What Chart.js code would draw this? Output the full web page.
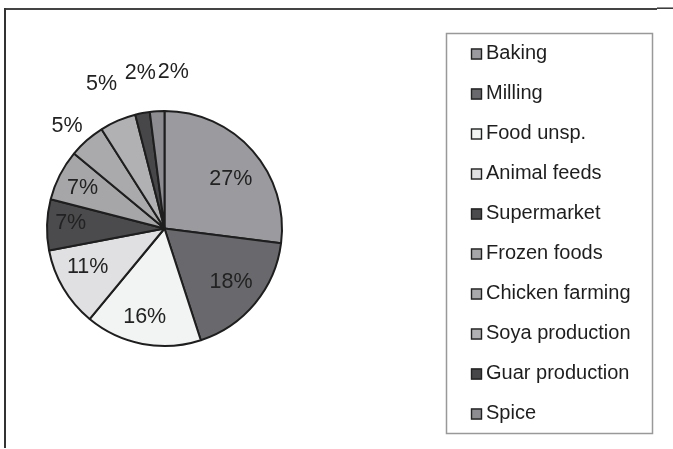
<!DOCTYPE html>
<html>
<head>
<meta charset="utf-8">
<script src="https://cdn.jsdelivr.net/npm/chart.js@4/dist/chart.umd.min.js"></script>
<style>
  html, body { margin: 0; padding: 0; background: #ffffff; }
  #wrap { width: 673px; height: 449px; }
</style>
</head>
<body>
<div id="wrap"><canvas id="c" width="673" height="449"></canvas></div>
<script>
// Share of use by sector (percent)
const categories = ['Baking', 'Milling', 'Food unsp.', 'Animal feeds', 'Supermarket',
  'Frozen foods', 'Chicken farming', 'Soya production', 'Guar production', 'Spice'];
const shares = [27, 18, 16, 11, 7, 7, 5, 5, 2, 2];

// Slice fills (greyscale)
const sliceColors = ['#9b9b9f', '#69696d', '#f2f3f3', '#e0e0e2', '#4b4b4e',
  '#a6a6a9', '#aaaaad', '#b1b1b4', '#47474a', '#8d8d91'];

// Value label placement: radius as a fraction of the pie radius, and a small angular shift (degrees)
const labelRadius = [0.71, 0.72, 0.76, 0.73, 0.80, 0.78, 1.21, 1.35, 1.35, 1.34];
const labelShift  = [4, -1.5, 2, 4.3, 1.9, -0.4, -1.9, 0, 2, 6.8];

const FONT = '"Liberation Sans", Arial, Helvetica, sans-serif';

// Frame lines and the boxed legend at the right
const framePlugin = {
  id: 'frame',
  afterDraw(chart) {
    const ctx = chart.ctx;
    ctx.save();
    ctx.lineCap = 'butt';
    // outer frame: top and left edges
    ctx.strokeStyle = '#444';
    ctx.lineWidth = 2;
    ctx.beginPath();
    ctx.moveTo(4, 9); ctx.lineTo(657, 9);
    ctx.stroke();
    ctx.strokeStyle = '#333';
    ctx.lineWidth = 1.5;
    ctx.beginPath();
    ctx.moveTo(657, 8.2); ctx.lineTo(673, 8.2);
    ctx.stroke();
    ctx.lineWidth = 2;
    ctx.beginPath();
    ctx.moveTo(5, 8); ctx.lineTo(5, 448);
    ctx.stroke();

    // legend box
    ctx.strokeStyle = '#999';
    ctx.lineWidth = 1.5;
    ctx.strokeRect(446.5, 33.5, 206, 400);

    // legend entries
    const ds = chart.data.datasets[0];
    ctx.font = '20px ' + FONT;
    ctx.textBaseline = 'middle';
    ctx.textAlign = 'left';
    chart.data.labels.forEach((lab, i) => {
      const cy = 53 + 40 * i;
      ctx.fillStyle = ds.backgroundColor[i];
      ctx.fillRect(471, cy - 4.5, 11, 11);
      ctx.strokeStyle = '#222';
      ctx.lineWidth = 1.4;
      ctx.strokeRect(471.5, cy - 4, 10, 10);
      ctx.fillStyle = '#1e1e1e';
      ctx.fillText(lab, 486, cy);
    });
    ctx.restore();
  }
};

// Percent labels placed from each arc's geometry
const valueLabels = {
  id: 'valueLabels',
  afterDatasetsDraw(chart) {
    const ctx = chart.ctx;
    const meta = chart.getDatasetMeta(0);
    const values = chart.data.datasets[0].data;
    ctx.save();
    ctx.font = '21.5px ' + FONT;
    ctx.fillStyle = '#222';
    ctx.textAlign = 'center';
    ctx.textBaseline = 'middle';
    meta.data.forEach((arc, i) => {
      const p = arc.getProps(['x', 'y', 'startAngle', 'endAngle', 'outerRadius'], true);
      const mid = (p.startAngle + p.endAngle) / 2 + labelShift[i] * Math.PI / 180;
      const r = p.outerRadius * labelRadius[i];
      ctx.fillText(values[i] + '%', p.x + Math.cos(mid) * r, p.y + Math.sin(mid) * r + 1);
    });
    ctx.restore();
  }
};

new Chart(document.getElementById('c'), {
  type: 'pie',
  data: {
    labels: categories,
    datasets: [{
      data: shares,
      backgroundColor: sliceColors,
      borderColor: '#1e1e1e',
      borderWidth: 2
    }]
  },
  options: {
    responsive: false,
    animation: false,
    devicePixelRatio: 1,
    layout: { padding: { left: 46, right: 390, top: 110, bottom: 102 } },
    plugins: {
      legend: { display: false },
      tooltip: { enabled: false },
      title: { display: false }
    }
  },
  plugins: [valueLabels, framePlugin]
});
</script>
</body>
</html>
